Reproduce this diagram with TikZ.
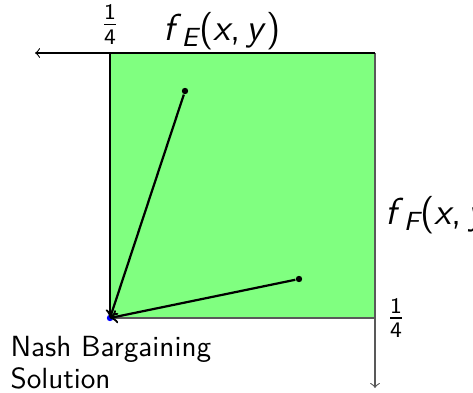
\documentclass[tikz,border=0pt]{standalone}
\usepackage{amsmath,amssymb}
\usepackage{tikz}
\newcommand{\sv}[1]{\textit{#1}}

\begin{document}
\begin{tikzpicture}[x=0.36pt,y=-0.36pt,font=\sffamily,
  offer/.style={circle,fill=black,inner sep=0pt,minimum size=2.3pt},
  nash/.style={circle,fill=blue,inner sep=0pt,minimum size=2.3pt},
  flabel/.style={font=\sffamily\fontsize{13.5}{16}\selectfont},
  qlabel/.style={font=\sffamily\large}]
\useasboundingbox (0,0) rectangle (473,392);
\coordinate (tl) at (110,53);
\coordinate (tr) at (375,53);
\coordinate (bl) at (110,318);
\coordinate (br) at (375,318);
\coordinate (xend) at (35,53);
\coordinate (yend) at (375,388);
\fill[green!50] (tl) rectangle (br);
\draw[gray!70!black] (bl) -- (br);
\draw[->,gray!70!black] (tr) -- (yend);
\draw[->] (tr) -- (xend);
\draw (tl) -- (bl);
\node[qlabel,above,inner sep=3pt] (qe) at (tl) {$\frac{\textsf{1}}{\textsf{4}}$};
\node[flabel] (fe) at (222,31) {\sv{f}$_{\sv{E}}$(\sv{x},\,\sv{y})};
\node[flabel,anchor=west,inner sep=0pt] (ff) at (385,215) {\sv{f}$_{\sv{F}}$(\sv{x},\,\sv{y})};
\node[qlabel,anchor=west,inner sep=4pt] (qf) at (br) {$\frac{\textsf{1}}{\textsf{4}}$};
\node[offer] (pe) at (185,91) {};
\node[offer] (pf) at (299,279) {};
\node[nash] (ns) at (bl) {};
\draw[thick,->] (pe) -- (ns.center);
\draw[thick,->] (pf) -- (ns.center);
\node[anchor=north west,align=left,inner sep=0pt,font=\sffamily\fontsize{10.5}{11.5}\selectfont] (lbl) at (10,336) {Nash Bargaining\\Solution};
\end{tikzpicture}
\end{document}
